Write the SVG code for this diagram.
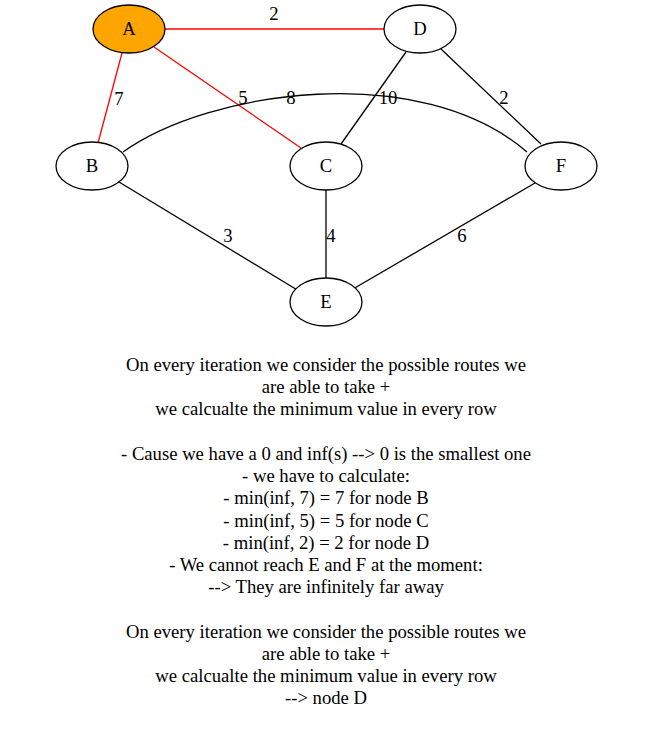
<svg xmlns="http://www.w3.org/2000/svg" width="653" height="744" viewBox="0 0 653 744">
<style>
text{font-family:"Liberation Serif","Times New Roman",serif;font-size:18.67px;fill:#000;text-anchor:middle}
.n ellipse{fill:#fff;stroke:#000;stroke-width:1.3}
.e{fill:none;stroke:#000;stroke-width:1.3}
.r{stroke:#f00}
</style>
<rect width="653" height="744" fill="#fff"/>
<g id="edges">
<path class="e r" d="M165,29 L384,29"/>
<path class="e r" d="M122,53 L98,143"/>
<path class="e r" d="M154,47 L301,148"/>
<path class="e" d="M123,152 C210,90 420,60 527,152"/>
<path class="e" d="M406,52 L341,144"/>
<path class="e" d="M441,49 L541,144"/>
<path class="e" d="M119,182 L299,291"/>
<path class="e" d="M326,190 L326,278"/>
<path class="e" d="M535,183 L353,289"/>
<text x="274" y="20">2</text>
<text x="119" y="105">7</text>
<text x="243" y="104">5</text>
<text x="291" y="104">8</text>
<text x="388" y="104">10</text>
<text x="504" y="104">2</text>
<text x="228" y="242">3</text>
<text x="331" y="242">4</text>
<text x="462" y="242">6</text>
</g>
<g id="A" class="n"><ellipse cx="129" cy="29" rx="36" ry="24" style="fill:#ffa500"/><text x="129" y="35">A</text></g>
<g id="D" class="n"><ellipse cx="420" cy="29" rx="36" ry="24"/><text x="420" y="35">D</text></g>
<g id="B" class="n"><ellipse cx="92" cy="166" rx="36" ry="24"/><text x="92" y="172">B</text></g>
<g id="C" class="n"><ellipse cx="326" cy="166" rx="36" ry="24"/><text x="326" y="172">C</text></g>
<g id="F" class="n"><ellipse cx="561" cy="166" rx="36" ry="24"/><text x="561" y="172">F</text></g>
<g id="E" class="n"><ellipse cx="326" cy="302" rx="36" ry="24"/><text x="326" y="308">E</text></g>
<g id="notes">
<text x="326" y="371">On every iteration we consider the possible routes we</text>
<text x="326" y="393">are able to take +</text>
<text x="326" y="415">we calcualte the minimum value in every row</text>
<text x="326" y="460">- Cause we have a 0 and inf(s) --&gt; 0 is the smallest one</text>
<text x="326" y="482">- we have to calculate:</text>
<text x="326" y="504">- min(inf, 7) = 7 for node B</text>
<text x="326" y="527">- min(inf, 5) = 5 for node C</text>
<text x="326" y="549">- min(inf, 2) = 2 for node D</text>
<text x="326" y="571">- We cannot reach E and F at the moment:</text>
<text x="326" y="593">--&gt; They are infinitely far away</text>
<text x="326" y="638">On every iteration we consider the possible routes we</text>
<text x="326" y="660">are able to take +</text>
<text x="326" y="682">we calcualte the minimum value in every row</text>
<text x="326" y="704">--&gt; node D</text>
</g>
</svg>
